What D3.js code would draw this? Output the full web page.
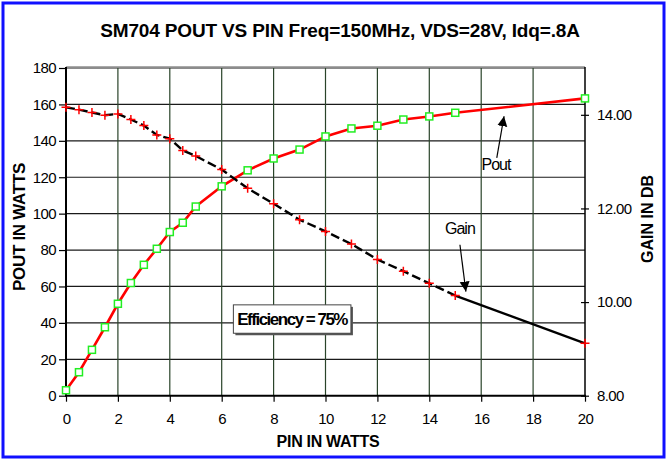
<!DOCTYPE html>
<html><head><meta charset="utf-8">
<script src="https://cdn.jsdelivr.net/npm/d3@7/dist/d3.min.js"></script>
<style>
body{margin:0;background:#fff}
svg text{font-family:"Liberation Sans",Arial,sans-serif;fill:#000}
</style>
</head><body>
<svg id="chart" width="668" height="460"></svg>
<script>
// ---- data ----
const pinWatts = [0,0.5,1,1.5,2,2.5,3,3.5,4,4.5,5,6,7,8,9,10,11,12,13,14,15,20];
const poutWatts = [3,12.9,25.2,37.6,50.5,61.9,71.9,80.7,89.9,95,103.9,115,123.8,130.3,135.2,142.4,146.8,148.3,151.7,153.4,155.4,163.3];
const gainDb = [14.16,14.11,14.05,13.99,14.02,13.90,13.77,13.57,13.49,13.24,13.12,12.83,12.43,12.10,11.76,11.51,11.24,10.91,10.66,10.40,10.14,9.12];
const xTicks = [0,2,4,6,8,10,12,14,16,18,20];
const leftTicks = [0,20,40,60,80,100,120,140,160,180];
const rightTicks = [8,10,12,14];
const titleText = "SM704 POUT VS PIN Freq=150MHz, VDS=28V, Idq=.8A";
const xTitle = "PIN IN WATTS";
const yTitle = "POUT IN WATTS";
const y2Title = "GAIN IN DB";
const efficiencyText = "Efficiency = 75%";

// ---- layout ----
const W = 668, H = 460;
const L = 66, R = 585, T = 68, B = 395.7;
const svg = d3.select("#chart");

const x = d3.scaleLinear().domain([0,20]).range([L,R]);
const y = d3.scaleLinear().domain([0,180]).range([B,T]);
const y2 = d3.scaleLinear().domain([8,15]).range([B,T]);

// frame
svg.append("rect").attr("x",3).attr("y",3).attr("width",661).attr("height",454)
  .attr("fill","#fff").attr("stroke","#1010ff").attr("stroke-width",3);

// grid
const g = svg.append("g");
g.selectAll("line.h").data(leftTicks.filter(d=>d>0)).enter().append("line")
  .attr("x1",L).attr("x2",R).attr("y1",d=>y(d)).attr("y2",d=>y(d))
  .attr("stroke","#1a1a1a").attr("stroke-width",1.2);
g.append("line").attr("x1",L).attr("x2",R).attr("y1",y(180)-1.5).attr("y2",y(180)-1.5)
  .attr("stroke","#aaa").attr("stroke-width",1.2);
g.selectAll("line.v").data(xTicks.filter(d=>d>0&&d<20)).enter().append("line")
  .attr("y1",T).attr("y2",B).attr("x1",d=>x(d)).attr("x2",d=>x(d))
  .attr("stroke","#2a442a").attr("stroke-width",1.2);

// axes
const ax = svg.append("g").attr("transform",`translate(0,${B})`)
  .call(d3.axisBottom(x).tickValues(xTicks).tickSize(6).tickPadding(12).tickFormat(d3.format("d")));
const ay = svg.append("g").attr("transform",`translate(${L},0)`)
  .call(d3.axisLeft(y).tickValues(leftTicks).tickSize(7).tickPadding(3).tickFormat(d3.format("d")));
const ay2 = svg.append("g").attr("transform",`translate(${R},0)`)
  .call(d3.axisRight(y2).tickValues(rightTicks).tickSize(4).tickPadding(8).tickFormat(d3.format(".2f")));
ay2.selectAll(".tick line").attr("x1",-4);
[ax,ay,ay2].forEach(a=>{
  a.selectAll(".domain").remove();
  a.selectAll("text").style("font-size","15px").style("letter-spacing","-0.6px");
  a.selectAll(".tick line").attr("stroke","#000").attr("stroke-width",1.2);
});
svg.append("line").attr("x1",L).attr("x2",L).attr("y1",T-1).attr("y2",B+1).attr("stroke","#000").attr("stroke-width",2);
svg.append("line").attr("x1",R).attr("x2",R).attr("y1",T-1).attr("y2",B+1).attr("stroke","#000").attr("stroke-width",1.5);
svg.append("line").attr("x1",L-1).attr("x2",R+1).attr("y1",B).attr("y2",B).attr("stroke","#000").attr("stroke-width",2);

// data
const pts = pinWatts.map((p,i)=>({p,pout:poutWatts[i],gain:gainDb[i]}));
const poutLine = d3.line().x(d=>x(d.p)).y(d=>y(d.pout));
svg.append("path").datum(pts).attr("d",poutLine).attr("fill","none")
  .attr("stroke","#ff0000").attr("stroke-width",2.6);

const gainLine = d3.line().x(d=>x(d.p)).y(d=>y2(d.gain));
const split = pinWatts.indexOf(15);
svg.append("path").datum(pts.slice(0,split+1)).attr("d",gainLine).attr("fill","none")
  .attr("stroke","#000").attr("stroke-width",2.4).attr("stroke-dasharray","9,4");
svg.append("path").datum(pts.slice(split)).attr("d",gainLine).attr("fill","none")
  .attr("stroke","#000").attr("stroke-width",2.4);

// pout markers
svg.selectAll("rect.pm").data(pts).enter().append("rect")
  .attr("x",d=>x(d.p)-3.5).attr("y",d=>y(d.pout)-3.5).attr("width",7).attr("height",7)
  .attr("fill","#fff").attr("stroke","#22ee22").attr("stroke-width",1.5);
// gain markers
const gm = svg.selectAll("g.gm").data(pts).enter().append("g")
  .attr("transform",d=>`translate(${x(d.p)},${y2(d.gain)})`);
gm.append("path").attr("d","M-4.5,0H4.5M0,-4.5V4.5").attr("stroke","#ff0000").attr("stroke-width",1.5);

// titles
svg.append("text").attr("x",340).attr("y",37).attr("text-anchor","middle")
  .style("font-size","19px").style("font-weight","bold").style("letter-spacing","-0.15px").text(titleText);
svg.append("text").attr("x",328).attr("y",447).attr("text-anchor","middle")
  .style("font-size","16px").style("font-weight","bold").style("letter-spacing","-0.3px").text(xTitle);
svg.append("text").attr("transform","translate(25,227) rotate(-90)").attr("text-anchor","middle")
  .style("font-size","17px").style("font-weight","bold").style("letter-spacing","-0.3px").text(yTitle);
svg.append("text").attr("transform","translate(653,219) rotate(-90)").attr("text-anchor","middle")
  .style("font-size","16px").style("font-weight","bold").style("letter-spacing","0px").text(y2Title);

// efficiency box
const bx0 = x(6.45), bx1 = x(10.98), by0 = y(49.9), by1 = y(34.3);
svg.append("rect").attr("x",bx0+2).attr("y",by0+2).attr("width",bx1-bx0).attr("height",by1-by0).attr("fill","#555");
svg.append("rect").attr("x",bx0).attr("y",by0).attr("width",bx1-bx0).attr("height",by1-by0)
  .attr("fill","#fff").attr("stroke","#444").attr("stroke-width",1);
svg.append("text").attr("x",(bx0+bx1)/2).attr("y",(by0+by1)/2+6).attr("text-anchor","middle")
  .style("font-size","17px").style("font-weight","bold").style("letter-spacing","-1.5px").text(efficiencyText);

// annotations
const defs = svg.append("defs");
defs.append("marker").attr("id","ah").attr("viewBox","0 0 10 10").attr("refX",10).attr("refY",5)
  .attr("markerWidth",10).attr("markerHeight",11).attr("markerUnits","userSpaceOnUse").attr("orient","auto")
  .append("path").attr("d","M0,0L10,5L0,10Z").attr("fill","#000");
function annot(label, tx, ty, ax0, ay0, ax1, ay1){
  svg.append("text").attr("x",x(tx)).attr("y",y(ty)+5.5).attr("text-anchor","middle")
    .style("font-size","16px").style("letter-spacing","-1px").text(label);
  svg.append("line").attr("x1",x(ax0)).attr("y1",y(ay0)).attr("x2",x(ax1)).attr("y2",y(ay1))
    .attr("stroke","#000").attr("stroke-width",1.2).attr("marker-end","url(#ah)");
}
annot("Pout",16.57,127,16.6,130.6,16.88,153.5);
annot("Gain",15.18,92.1,15.18,82.9,15.41,57.2);
</script>
</body></html>
